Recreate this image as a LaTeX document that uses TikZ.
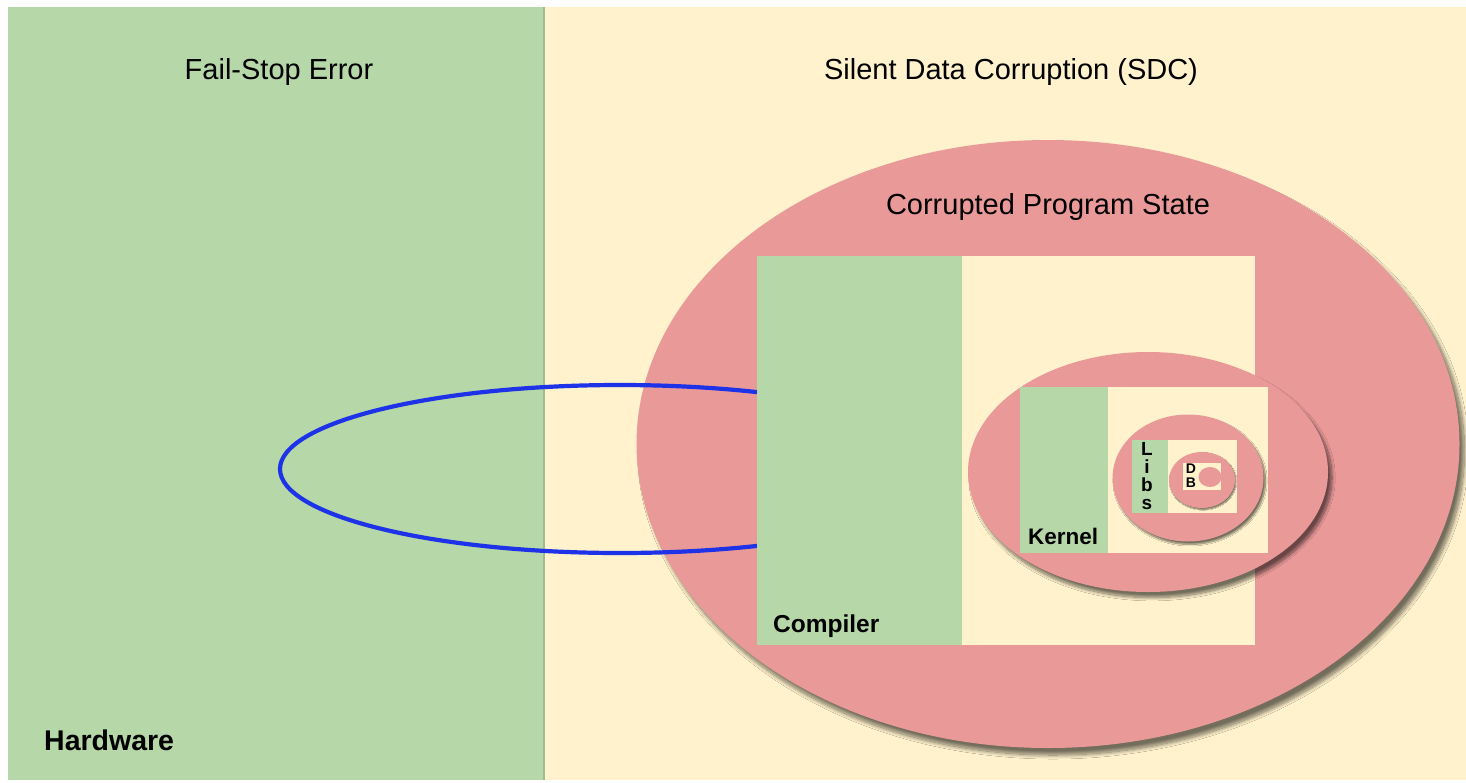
\documentclass[tikz,border=0pt]{standalone}
\usepackage{fontspec}
\setmainfont{Liberation Sans}
\usetikzlibrary{shapes.geometric,shadows.blur}
\definecolor{hwgreen}{RGB}{182,215,168}
\definecolor{hwedge}{RGB}{158,188,146}
\definecolor{sdcbeige}{RGB}{255,242,204}
\definecolor{cpink}{RGB}{234,153,153}
\definecolor{loopblue}{RGB}{30,50,232}
\tikzset{
  panel/.style={rectangle, inner sep=0pt, outer sep=0pt, draw=none},
  oval/.style={ellipse, inner sep=0pt, outer sep=0pt, fill=cpink, draw=none},
  sh/.style={blur shadow={shadow xshift=#1, shadow yshift=-1.4*#1, shadow blur radius=0.8*#1, shadow opacity=55, shadow blur steps=12}},
  lbl/.style={inner sep=0pt, text=black},
}
\newcommand{\fsz}[1]{\fontsize{#1}{#1}\selectfont}
\begin{document}
\begin{tikzpicture}[x=1pt,y=-1pt]
\useasboundingbox (0,0) rectangle (1466,782);
\fill[white] (0,0) rectangle (1466,782);
% panels
\node[panel, fill=sdcbeige, minimum width=921, minimum height=773, anchor=north west] (sdc) at (545,7) {};
\node[panel, fill=hwgreen, minimum width=537, minimum height=773, anchor=north west] (hw) at (8,7) {};
\node[panel, fill=hwedge, minimum width=2.5, minimum height=773, anchor=north east] (hwedge) at (hw.north east) {};
% big ellipse
\node[oval, minimum width=823, minimum height=608, sh=5pt] (cps) at (1048,444) {};
% blue loop
\node[ellipse, draw=loopblue, line width=4.2pt, minimum width=680, minimum height=168, inner sep=0pt] (loop) at (620,469) {};
% compiler box
\node[panel, fill=sdcbeige, minimum width=498, minimum height=389, anchor=north west] (comp) at (757,256) {};
\node[panel, fill=hwgreen, minimum width=205, minimum height=389, anchor=north west] (compg) at (757,256) {};
% medium ellipse
\node[oval, minimum width=360, minimum height=240, sh=4pt] (osell) at (1148,472) {};
\node[panel, fill=sdcbeige, minimum width=248, minimum height=166, anchor=north west] (kern) at (1020,387) {};
\node[panel, fill=hwgreen, minimum width=88, minimum height=166, anchor=north west] (kerng) at (1020,387) {};
% small ellipse
\node[oval, minimum width=151, minimum height=127, sh=2pt] (lell) at (1188,478) {};
\node[panel, fill=sdcbeige, minimum width=105, minimum height=73, anchor=north west] (libs) at (1132,440) {};
\node[panel, fill=hwgreen, minimum width=36, minimum height=73, anchor=north west] (libsg) at (1132,440) {};
% tiny ellipse
\node[oval, minimum width=66, minimum height=56, sh=1pt] (dell) at (1202,480) {};
\node[panel, fill=sdcbeige, minimum width=38, minimum height=27, anchor=north west] (db) at (1183,463) {};
\node[oval, minimum width=23, minimum height=20] (dbc) at (1210,477) {};
% labels
\node[lbl, font=\fsz{29}] (t1) at (279,72) {Fail-Stop Error};
\node[lbl, font=\fsz{29}] (t2) at (1011,72) {Silent Data Corruption (SDC)};
\node[lbl, font=\fsz{29}] (t3) at (1048,207) {Corrupted Program State};
\node[lbl, font=\fsz{24.5}\bfseries, anchor=west] (t4) at (773,626) {Compiler};
\node[lbl, font=\fsz{28.5}\bfseries, anchor=west] (t5) at (44,740) {Hardware};
\node[lbl, font=\fsz{22.5}\bfseries, anchor=west] (t6) at (1028,536) {Kernel};
\node[lbl, font=\bfseries\fontsize{19}{18}\selectfont, align=center] (t7) at (1147,476) {L\\i\\b\\s};
\node[lbl, font=\bfseries\fontsize{14}{14}\selectfont, align=center] (t8) at (1191,476) {D\\B};
\end{tikzpicture}
\end{document}
